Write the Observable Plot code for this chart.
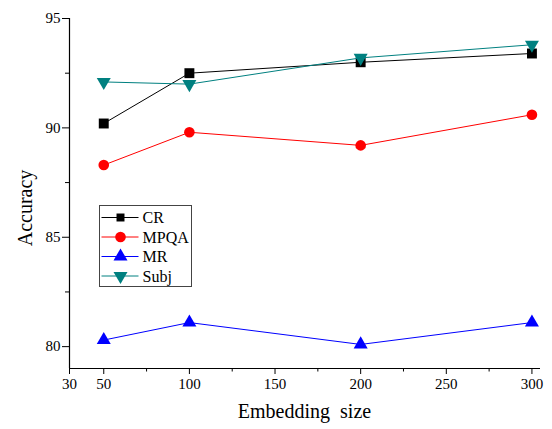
<!DOCTYPE html>
<html>
<head>
<meta charset="utf-8">
<script src="https://cdn.jsdelivr.net/npm/d3@7"></script>
<script src="https://cdn.jsdelivr.net/npm/@observablehq/plot@0.6"></script>
<style>
  html, body { margin: 0; padding: 0; background: #fff; }
  #chart { position: relative; width: 552px; height: 429px; }
  #chart svg, #chart svg text { font-family: "Liberation Serif", "Times New Roman", serif !important; }
</style>
</head>
<body>
<div id="chart"></div>
<script>
// ---- data ----
const embeddingSizes = [50, 100, 200, 300];
const seriesNames = ["CR", "MPQA", "MR", "Subj"];
const crValues   = [90.2, 92.5, 93.0, 93.4];
const mpqaValues = [88.3, 89.8, 89.2, 90.6];
const mrValues   = [80.3, 81.1, 80.1, 81.1];
const subjValues = [92.1, 92.0, 93.2, 93.8];
const xTicks = [30, 50, 100, 150, 200, 250, 300];
const xMinorTicks = [75, 125, 175, 225, 275];
const yTicks = [80, 85, 90, 95];
const yMinorTicks = [82.5, 87.5, 92.5];
const xTitle = "Embedding  size";
const yTitle = "Accuracy";

// ---- styles ----
const styles = {
  CR:   {color: "#000000", symbol: "square",   r: 5.6, rotate: 0},
  MPQA: {color: "#ff0000", symbol: "circle",   r: 5.3, rotate: 0},
  MR:   {color: "#0000ff", symbol: "triangle", r: 5.2, rotate: 0},
  Subj: {color: "#008080", symbol: "triangle", r: 5.2, rotate: 180}
};
const valuesBySeries = {CR: crValues, MPQA: mpqaValues, MR: mrValues, Subj: subjValues};

const marks = [
  Plot.ruleX([30], {stroke: "#000", strokeWidth: 1.2}),
  Plot.ruleY([79], {stroke: "#000", strokeWidth: 1.2}),
  Plot.axisX(xTicks, {tickSize: 6, tickPadding: 4, fontSize: 15, label: null}),
  Plot.axisX(xMinorTicks, {tickSize: 3.5, tickFormat: () => "", label: null}),
  Plot.axisY(yTicks, {tickSize: 7, tickPadding: 2, fontSize: 15, label: null}),
  Plot.axisY(yMinorTicks, {tickSize: 4, tickFormat: () => "", label: null})
];
for (const name of seriesNames) {
  const st = styles[name];
  const rows = embeddingSizes.map((x, i) => ({x, y: valuesBySeries[name][i]}));
  marks.push(Plot.line(rows, {x: "x", y: "y", stroke: st.color, strokeWidth: 1}));
  marks.push(Plot.dot(rows, {x: "x", y: "y", symbol: st.symbol, r: st.r, fill: st.color, stroke: "none", rotate: st.rotate}));
}

const plot = Plot.plot({
  width: 552,
  height: 429,
  marginLeft: 69,
  marginRight: 12,
  marginTop: 18,
  marginBottom: 61,
  style: {fontFamily: "'Liberation Serif', 'Times New Roman', serif", fontSize: "15px", background: "#fff", color: "#000"},
  x: {domain: [30, 305], label: null},
  y: {domain: [79, 95], label: null},
  marks
});
plot.setAttribute("font-family", "'Liberation Serif', 'Times New Roman', serif");
document.getElementById("chart").appendChild(plot);

// ---- titles and legend appended to the plot svg ----
const svg = d3.select(plot);
svg.append("text")
  .attr("x", 304.5).attr("y", 418)
  .attr("text-anchor", "middle")
  .style("white-space", "pre")
  .attr("font-size", 20)
  .attr("fill", "#000")
  .text(xTitle);
svg.append("text")
  .attr("transform", "translate(32,208) rotate(-90)")
  .attr("text-anchor", "middle")
  .attr("font-size", 20)
  .attr("fill", "#000")
  .text(yTitle);

const lg = svg.append("g").attr("transform", "translate(99.5,205.5)");
lg.append("rect").attr("width", 92).attr("height", 81)
  .attr("fill", "#fff").attr("stroke", "#444").attr("stroke-width", 1);
const symbolTypes = {square: d3.symbolSquare, circle: d3.symbolCircle, triangle: d3.symbolTriangle};
seriesNames.forEach((name, i) => {
  const st = styles[name];
  const cy = 12 + i * 19.5;
  const row = lg.append("g").attr("transform", `translate(0,${cy})`);
  row.append("line").attr("x1", 2).attr("x2", 39).attr("y1", 0).attr("y2", 0)
    .attr("stroke", st.color).attr("stroke-width", 1);
  const rr = st.symbol === "square" ? 4.5 : st.r;
  row.append("path")
    .attr("d", d3.symbol(symbolTypes[st.symbol], Math.PI * rr * rr)())
    .attr("transform", `translate(21,0) rotate(${st.rotate})`)
    .attr("fill", st.color);
  row.append("text").attr("x", 43).attr("y", 5.5)
    .attr("text-anchor", "start")
    .attr("font-size", 16).attr("fill", "#000").text(name);
});
</script>
</body>
</html>
